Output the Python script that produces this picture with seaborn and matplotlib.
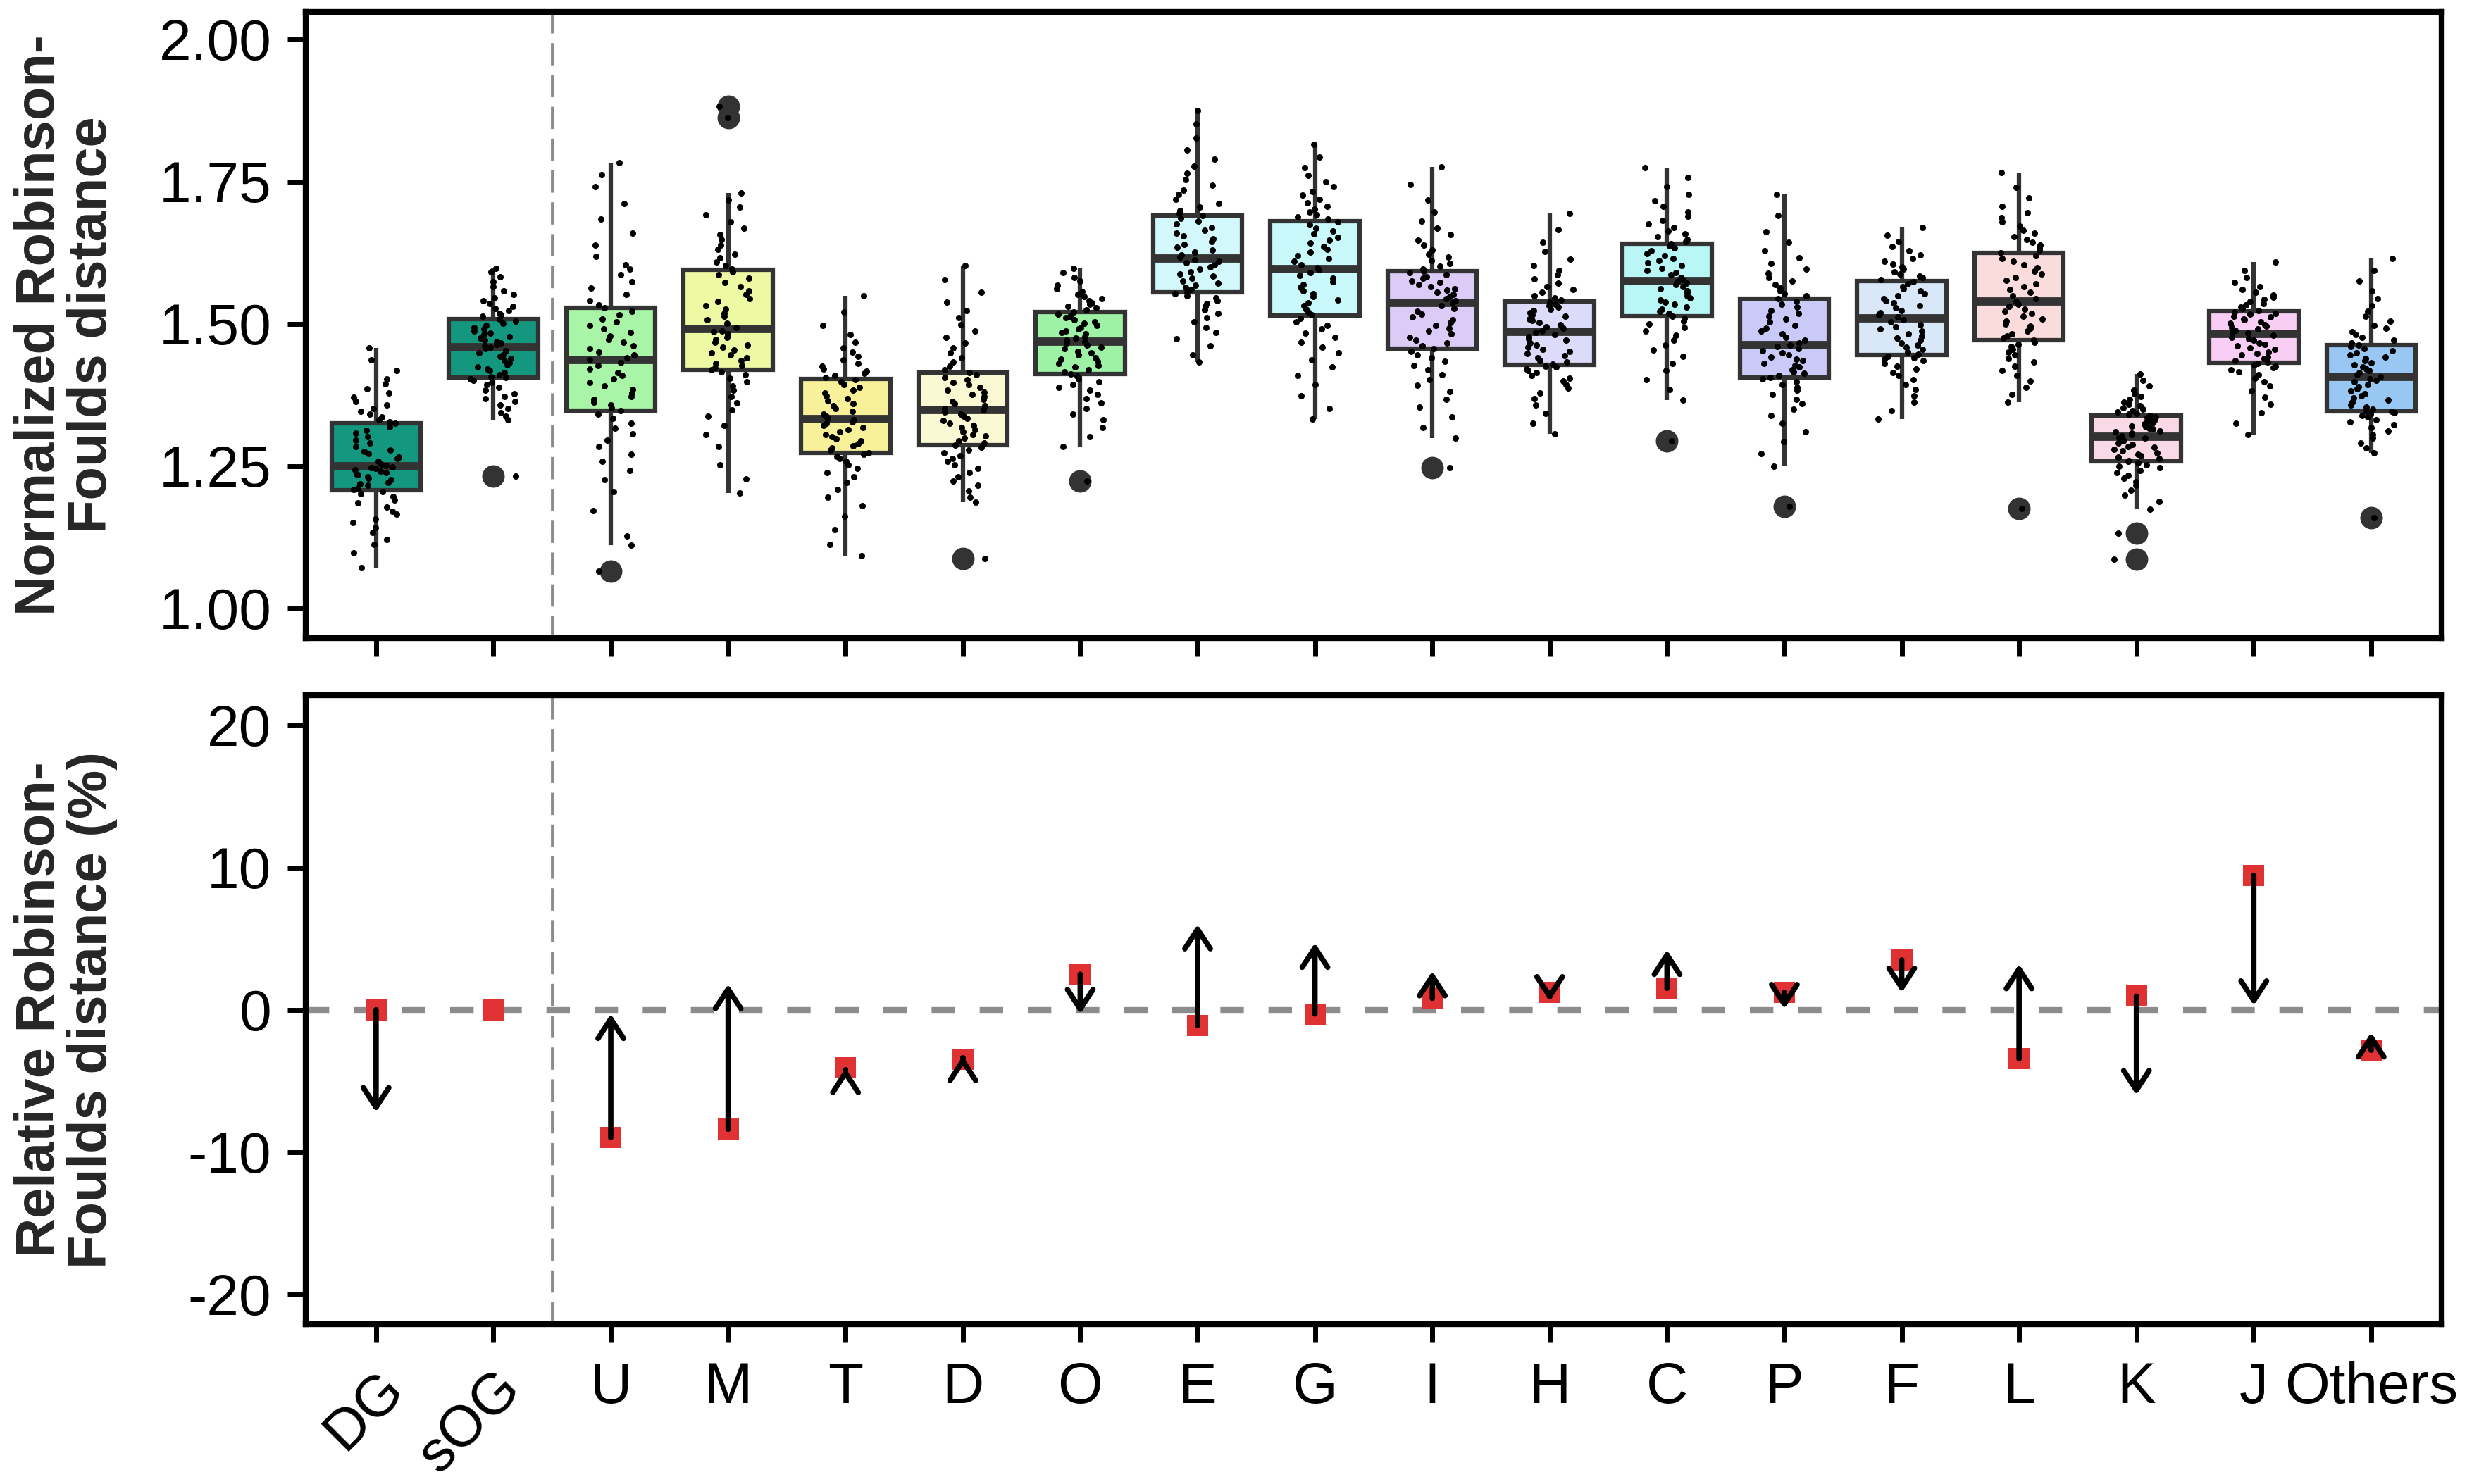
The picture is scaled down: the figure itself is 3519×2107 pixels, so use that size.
import numpy as np
import pandas as pd
import matplotlib
matplotlib.use("Agg")
import matplotlib.pyplot as plt
import seaborn as sns

# ---------------- data ----------------
categories = ["DG", "sOG", "U", "M", "T", "D", "O", "E", "G", "I", "H", "C",
              "P", "F", "L", "K", "J", "Others"]

rf_DG = [1.072, 1.098, 1.113, 1.121, 1.134, 1.142, 1.151, 1.157, 1.166, 1.171, 1.178, 1.186, 1.191, 1.197, 1.202, 1.206,
         1.209, 1.211, 1.216, 1.219, 1.221, 1.226, 1.229, 1.232, 1.235, 1.236, 1.239, 1.241, 1.244, 1.246, 1.247, 1.249,
         1.251, 1.254, 1.258, 1.263, 1.266, 1.272, 1.276, 1.279, 1.284, 1.291, 1.296, 1.302, 1.308, 1.313, 1.319, 1.325,
         1.328, 1.331, 1.337, 1.342, 1.346, 1.352, 1.358, 1.364, 1.371, 1.379, 1.386, 1.395, 1.404, 1.418, 1.437, 1.458]
rf_sOG = [1.331, 1.338, 1.344, 1.352, 1.358, 1.364, 1.369, 1.373, 1.378, 1.384, 1.389, 1.393, 1.397, 1.401, 1.403, 1.406,
          1.407, 1.411, 1.414, 1.418, 1.421, 1.425, 1.428, 1.432, 1.436, 1.439, 1.443, 1.446, 1.449, 1.453, 1.456, 1.459,
          1.462, 1.464, 1.467, 1.469, 1.472, 1.475, 1.478, 1.481, 1.484, 1.487, 1.491, 1.494, 1.497, 1.501, 1.505, 1.509,
          1.513, 1.516, 1.519, 1.523, 1.527, 1.531, 1.536, 1.541, 1.546, 1.552, 1.558, 1.566, 1.574, 1.583, 1.591, 1.598,
          1.233]
rf_U = [1.111, 1.128, 1.172, 1.205, 1.226, 1.243, 1.258, 1.271, 1.284, 1.296, 1.307, 1.317, 1.326, 1.334, 1.341, 1.348,
        1.353, 1.357, 1.362, 1.368, 1.373, 1.379, 1.385, 1.391, 1.397, 1.403, 1.409, 1.415, 1.421, 1.427, 1.432, 1.437,
        1.440, 1.445, 1.451, 1.457, 1.462, 1.468, 1.473, 1.479, 1.485, 1.491, 1.497, 1.503, 1.509, 1.516, 1.522, 1.528,
        1.533, 1.541, 1.552, 1.563, 1.574, 1.586, 1.597, 1.604, 1.619, 1.638, 1.659, 1.684, 1.712, 1.741, 1.762, 1.783,
        1.066]
rf_M = [1.203, 1.228, 1.252, 1.284, 1.306, 1.322, 1.338, 1.349, 1.361, 1.372, 1.383, 1.391, 1.398, 1.405, 1.411, 1.416,
        1.419, 1.423, 1.427, 1.431, 1.436, 1.441, 1.445, 1.449, 1.454, 1.459, 1.463, 1.468, 1.473, 1.477, 1.482, 1.486,
        1.488, 1.494, 1.501, 1.507, 1.513, 1.519, 1.526, 1.532, 1.539, 1.545, 1.552, 1.558, 1.566, 1.573, 1.580, 1.587,
        1.592, 1.597, 1.603, 1.609, 1.616, 1.622, 1.631, 1.639, 1.648, 1.657, 1.668, 1.679, 1.692, 1.705, 1.718, 1.730,
        1.862, 1.882]
rf_T = [1.093, 1.112, 1.138, 1.162, 1.181, 1.196, 1.209, 1.221, 1.231, 1.239, 1.246, 1.252, 1.258, 1.263, 1.267, 1.271,
        1.274, 1.278, 1.282, 1.286, 1.290, 1.294, 1.298, 1.302, 1.306, 1.310, 1.314, 1.318, 1.322, 1.325, 1.328, 1.331,
        1.334, 1.338, 1.342, 1.347, 1.351, 1.356, 1.360, 1.365, 1.369, 1.374, 1.379, 1.384, 1.389, 1.394, 1.398, 1.402,
        1.406, 1.409, 1.413, 1.417, 1.421, 1.426, 1.431, 1.437, 1.443, 1.450, 1.458, 1.468, 1.481, 1.498, 1.521, 1.550]
rf_D = [1.187, 1.196, 1.207, 1.216, 1.224, 1.232, 1.239, 1.246, 1.252, 1.258, 1.263, 1.268, 1.273, 1.278, 1.283, 1.287,
        1.291, 1.295, 1.299, 1.303, 1.306, 1.310, 1.314, 1.318, 1.322, 1.326, 1.330, 1.334, 1.338, 1.342, 1.345, 1.349,
        1.352, 1.356, 1.360, 1.364, 1.368, 1.372, 1.376, 1.380, 1.384, 1.389, 1.393, 1.397, 1.402, 1.406, 1.411, 1.415,
        1.420, 1.426, 1.433, 1.441, 1.449, 1.458, 1.467, 1.477, 1.488, 1.499, 1.511, 1.524, 1.538, 1.556, 1.578, 1.603,
        1.088]
rf_O = [1.284, 1.302, 1.318, 1.331, 1.342, 1.352, 1.361, 1.369, 1.376, 1.383, 1.389, 1.394, 1.399, 1.404, 1.408, 1.412,
        1.416, 1.420, 1.424, 1.427, 1.431, 1.434, 1.438, 1.441, 1.445, 1.449, 1.452, 1.456, 1.459, 1.463, 1.466, 1.469,
        1.472, 1.475, 1.478, 1.482, 1.485, 1.488, 1.491, 1.494, 1.498, 1.501, 1.504, 1.507, 1.511, 1.514, 1.517, 1.521,
        1.525, 1.528, 1.531, 1.534, 1.537, 1.541, 1.544, 1.548, 1.552, 1.557, 1.562, 1.568, 1.575, 1.582, 1.590, 1.598,
        1.224]
rf_E = [1.433, 1.446, 1.461, 1.474, 1.485, 1.494, 1.503, 1.511, 1.518, 1.525, 1.531, 1.536, 1.541, 1.546, 1.550, 1.553,
        1.556, 1.560, 1.564, 1.568, 1.572, 1.576, 1.580, 1.584, 1.588, 1.592, 1.596, 1.600, 1.604, 1.607, 1.610, 1.613,
        1.617, 1.621, 1.626, 1.630, 1.635, 1.640, 1.645, 1.650, 1.655, 1.660, 1.665, 1.670, 1.675, 1.680, 1.685, 1.690,
        1.694, 1.699, 1.705, 1.712, 1.719, 1.727, 1.735, 1.744, 1.754, 1.765, 1.777, 1.790, 1.806, 1.826, 1.851, 1.875]
rf_G = [1.333, 1.352, 1.374, 1.393, 1.410, 1.424, 1.437, 1.449, 1.459, 1.468, 1.476, 1.484, 1.491, 1.498, 1.504, 1.510,
        1.516, 1.521, 1.526, 1.532, 1.537, 1.542, 1.548, 1.553, 1.558, 1.564, 1.569, 1.574, 1.580, 1.585, 1.590, 1.595,
        1.599, 1.604, 1.610, 1.615, 1.620, 1.626, 1.631, 1.636, 1.642, 1.647, 1.652, 1.658, 1.663, 1.668, 1.674, 1.679,
        1.684, 1.688, 1.692, 1.697, 1.702, 1.707, 1.713, 1.719, 1.726, 1.733, 1.741, 1.750, 1.761, 1.774, 1.793, 1.815]
rf_I = [1.300, 1.318, 1.337, 1.354, 1.368, 1.381, 1.392, 1.402, 1.411, 1.419, 1.427, 1.434, 1.440, 1.446, 1.452, 1.457,
        1.462, 1.467, 1.472, 1.477, 1.482, 1.487, 1.492, 1.497, 1.502, 1.507, 1.512, 1.517, 1.522, 1.527, 1.532, 1.537,
        1.541, 1.545, 1.548, 1.552, 1.555, 1.559, 1.562, 1.566, 1.569, 1.573, 1.576, 1.580, 1.583, 1.587, 1.590, 1.593,
        1.597, 1.601, 1.606, 1.611, 1.617, 1.623, 1.630, 1.638, 1.647, 1.657, 1.668, 1.681, 1.697, 1.718, 1.745, 1.776,
        1.248]
rf_H = [1.307, 1.325, 1.343, 1.357, 1.369, 1.379, 1.387, 1.394, 1.400, 1.405, 1.410, 1.414, 1.418, 1.421, 1.424, 1.426,
        1.429, 1.433, 1.436, 1.440, 1.444, 1.448, 1.452, 1.455, 1.459, 1.463, 1.467, 1.471, 1.474, 1.478, 1.481, 1.485,
        1.488, 1.492, 1.495, 1.499, 1.502, 1.506, 1.509, 1.513, 1.516, 1.520, 1.523, 1.526, 1.529, 1.532, 1.535, 1.538,
        1.542, 1.546, 1.550, 1.555, 1.560, 1.566, 1.572, 1.579, 1.586, 1.594, 1.603, 1.614, 1.627, 1.643, 1.666, 1.694]
rf_C = [1.366, 1.385, 1.402, 1.418, 1.431, 1.443, 1.454, 1.463, 1.472, 1.480, 1.487, 1.494, 1.500, 1.505, 1.510, 1.514,
        1.518, 1.522, 1.526, 1.530, 1.534, 1.538, 1.542, 1.546, 1.550, 1.554, 1.558, 1.562, 1.566, 1.569, 1.572, 1.575,
        1.578, 1.582, 1.586, 1.590, 1.594, 1.598, 1.603, 1.607, 1.611, 1.615, 1.620, 1.624, 1.628, 1.633, 1.637, 1.641,
        1.645, 1.649, 1.653, 1.658, 1.663, 1.669, 1.675, 1.682, 1.689, 1.697, 1.706, 1.716, 1.728, 1.741, 1.757, 1.774,
        1.295]
rf_P = [1.250, 1.272, 1.293, 1.311, 1.326, 1.339, 1.350, 1.360, 1.368, 1.376, 1.383, 1.389, 1.394, 1.399, 1.403, 1.406,
        1.409, 1.413, 1.416, 1.420, 1.424, 1.427, 1.431, 1.435, 1.438, 1.442, 1.446, 1.449, 1.453, 1.457, 1.460, 1.463,
        1.467, 1.472, 1.477, 1.482, 1.487, 1.492, 1.498, 1.503, 1.508, 1.514, 1.519, 1.524, 1.530, 1.535, 1.540, 1.545,
        1.549, 1.553, 1.558, 1.563, 1.569, 1.575, 1.582, 1.589, 1.597, 1.606, 1.616, 1.628, 1.643, 1.662, 1.691, 1.727,
        1.180]
rf_F = [1.333, 1.348, 1.362, 1.374, 1.385, 1.394, 1.402, 1.409, 1.415, 1.421, 1.426, 1.431, 1.435, 1.438, 1.441, 1.443,
        1.447, 1.451, 1.455, 1.459, 1.463, 1.467, 1.471, 1.475, 1.479, 1.483, 1.487, 1.491, 1.495, 1.499, 1.503, 1.507,
        1.512, 1.516, 1.520, 1.524, 1.528, 1.532, 1.537, 1.541, 1.545, 1.549, 1.553, 1.558, 1.562, 1.566, 1.570, 1.574,
        1.578, 1.581, 1.584, 1.588, 1.592, 1.596, 1.600, 1.605, 1.610, 1.615, 1.621, 1.628, 1.636, 1.645, 1.656, 1.669]
rf_L = [1.362, 1.376, 1.389, 1.400, 1.410, 1.418, 1.426, 1.433, 1.439, 1.445, 1.450, 1.455, 1.460, 1.464, 1.468, 1.471,
        1.475, 1.479, 1.483, 1.488, 1.492, 1.496, 1.500, 1.505, 1.509, 1.513, 1.518, 1.522, 1.526, 1.531, 1.535, 1.539,
        1.544, 1.549, 1.555, 1.560, 1.566, 1.571, 1.577, 1.582, 1.588, 1.593, 1.599, 1.604, 1.610, 1.615, 1.620, 1.625,
        1.630, 1.634, 1.638, 1.643, 1.648, 1.653, 1.659, 1.665, 1.672, 1.679, 1.687, 1.696, 1.707, 1.721, 1.740, 1.766,
        1.176]
rf_K = [1.175, 1.188, 1.199, 1.208, 1.216, 1.223, 1.229, 1.234, 1.239, 1.243, 1.247, 1.250, 1.253, 1.256, 1.258, 1.260,
        1.263, 1.266, 1.269, 1.271, 1.274, 1.277, 1.280, 1.283, 1.285, 1.288, 1.291, 1.294, 1.296, 1.299, 1.301, 1.303,
        1.306, 1.308, 1.310, 1.312, 1.315, 1.317, 1.319, 1.321, 1.324, 1.326, 1.328, 1.330, 1.333, 1.335, 1.337, 1.339,
        1.341, 1.343, 1.345, 1.348, 1.350, 1.353, 1.356, 1.359, 1.363, 1.367, 1.372, 1.377, 1.384, 1.391, 1.401, 1.412,
        1.132, 1.086]
rf_J = [1.306, 1.326, 1.344, 1.359, 1.371, 1.382, 1.391, 1.399, 1.405, 1.411, 1.416, 1.420, 1.423, 1.426, 1.428, 1.430,
        1.433, 1.436, 1.439, 1.442, 1.445, 1.448, 1.451, 1.455, 1.458, 1.461, 1.464, 1.467, 1.471, 1.474, 1.477, 1.480,
        1.484, 1.486, 1.489, 1.491, 1.494, 1.496, 1.499, 1.501, 1.504, 1.507, 1.509, 1.512, 1.514, 1.517, 1.519, 1.521,
        1.524, 1.527, 1.530, 1.533, 1.536, 1.539, 1.543, 1.547, 1.551, 1.555, 1.560, 1.566, 1.573, 1.582, 1.594, 1.609]
rf_Others = [1.273, 1.282, 1.291, 1.299, 1.306, 1.312, 1.318, 1.323, 1.328, 1.332, 1.336, 1.339, 1.342, 1.344, 1.346, 1.347,
             1.350, 1.354, 1.358, 1.362, 1.366, 1.370, 1.374, 1.378, 1.382, 1.386, 1.390, 1.394, 1.398, 1.401, 1.404, 1.407,
             1.411, 1.414, 1.418, 1.421, 1.425, 1.428, 1.432, 1.435, 1.439, 1.442, 1.446, 1.449, 1.453, 1.456, 1.460, 1.463,
             1.467, 1.471, 1.476, 1.481, 1.486, 1.492, 1.498, 1.505, 1.513, 1.522, 1.532, 1.544, 1.558, 1.575, 1.594, 1.615,
             1.160]

rf_values = [rf_DG, rf_sOG, rf_U, rf_M, rf_T, rf_D, rf_O, rf_E, rf_G, rf_I, rf_H,
             rf_C, rf_P, rf_F, rf_L, rf_K, rf_J, rf_Others]

box_colors = ["#13987f", "#13987f", "#a8f5a8", "#eef9a3", "#f8f19a", "#fbf9d3",
              "#9df2a5", "#d3f8fb", "#c9f9fa", "#dccbf6", "#dcdbf9", "#b9f7f7",
              "#cacaf9", "#d8e8f9", "#fadcdc", "#f9d9e6", "#f8cef5", "#98c7f4"]

# relative RF distance (%): red squares and arrow start/end values
rel_square = [0.0, 0.0, -9.0, -8.4, -4.1, -3.5, 2.5, -1.1, -0.3, 0.8, 1.2, 1.5,
              1.2, 3.5, -3.45, 0.95, 9.45, -2.85]
arrow_start = [0.0, 0.0, -9.0, -8.4, -4.25, -3.4, 2.5, -1.1, -0.3, 0.8, 1.2, 1.5,
               1.2, 3.5, -3.45, 0.95, 9.45, -2.85]
arrow_end = [-7.2, 0.0, -0.3, 1.8, -4.1, -3.25, -0.3, 6.0, 4.7, 2.7, 0.6, 4.2,
             0.05, 1.2, 3.2, -6.0, 0.3, -1.6]

top_yticks = [1.00, 1.25, 1.50, 1.75, 2.00]
bottom_yticks = [-20, -10, 0, 10, 20]

# ---------------- style ----------------
sns.set_style("ticks")
plt.rcParams["font.family"] = ["Liberation Sans", "DejaVu Sans"]
plt.rcParams["axes.unicode_minus"] = False

df = pd.DataFrame({
    "group": np.repeat(categories, [len(v) for v in rf_values]),
    "rf": np.concatenate(rf_values),
})
rel_df = pd.DataFrame({"group": categories, "rel": rel_square})

fig = plt.figure(figsize=(35.19, 21.07), dpi=100)
ax1 = fig.add_axes([0.1233, 0.5700, 0.8616, 0.4219])
ax2 = fig.add_axes([0.1233, 0.1077, 0.8616, 0.4238])

edge = "#333333"
grey = "#8c8c8c"

# ---------------- top panel ----------------
ax1.axvline(1.5, color=grey, lw=3.5, dashes=(6.5, 2.8), zorder=0.5)
sns.boxplot(data=df, x="group", y="rf", hue="group", order=categories,
            hue_order=categories, palette=dict(zip(categories, box_colors)),
            saturation=1, legend=False, dodge=False, width=0.76, linewidth=4.5,
            linecolor=edge, fliersize=22, whis=1.5, showcaps=False,
            flierprops=dict(marker="o", markerfacecolor=edge, markeredgecolor=edge),
            medianprops=dict(linewidth=8.5, color=edge),
            whiskerprops=dict(linewidth=4.5, color=edge),
            ax=ax1)
np.random.seed(11)
sns.stripplot(data=df, x="group", y="rf", order=categories, color="black",
              size=6.5, jitter=0.2, linewidth=0, ax=ax1, zorder=4)

# ---------------- bottom panel ----------------
ax2.axvline(1.5, color=grey, lw=3.5, dashes=(6.5, 2.8), zorder=0.5)
ax2.axhline(0, color=grey, lw=6, dashes=(4.0, 4.2), zorder=1)
sns.stripplot(data=rel_df, x="group", y="rel", order=categories, marker="s",
              size=21, color="#e03232", jitter=False, linewidth=0, ax=ax2, zorder=3)
for i, (s, e) in enumerate(zip(arrow_start, arrow_end)):
    if s == e:
        continue
    ax2.annotate("", xy=(i, e), xytext=(i, s), xycoords="data",
                 arrowprops=dict(arrowstyle="->,head_length=0.95,head_width=0.62",
                                 lw=5.5, color="black", shrinkA=0, shrinkB=0,
                                 mutation_scale=21),
                 zorder=5)

# ---------------- axes formatting ----------------
for ax in (ax1, ax2):
    ax.set_xlim(-0.6, 17.6)
    for sp in ax.spines.values():
        sp.set_visible(True)
        sp.set_linewidth(6)
        sp.set_color("black")
    ax.tick_params(axis="both", direction="out", length=19, width=5,
                   color="black", labelsize=59, pad=16, labelcolor="black")
    ax.set_xlabel("")

ax1.set_ylim(0.948, 2.048)
ax1.set_yticks(top_yticks)
ax1.set_yticklabels([f"{v:.2f}" for v in top_yticks])
ax1.set_xticks(range(len(categories)))
ax1.tick_params(axis="x", labelbottom=False)
ax1.set_ylabel("Normalized Robinson-\nFoulds distance", fontsize=56,
               fontweight="bold", linespacing=1.02)
ax1.yaxis.set_label_coords(-0.088, 0.5)

ax2.set_ylim(-22.1, 22.1)
ax2.set_yticks(bottom_yticks)
ax2.set_yticklabels([str(v) for v in bottom_yticks])
ax2.set_xticks(range(len(categories)))
ax2.set_xticklabels(categories)
ax2.tick_params(axis="x", pad=19)
for lbl in ax2.get_xticklabels()[:2]:
    lbl.set_rotation(45)
    lbl.set_horizontalalignment("right")
    lbl.set_verticalalignment("top")
    lbl.set_rotation_mode("anchor")
ax2.set_ylabel("Relative Robinson-\nFoulds distance (%)", fontsize=56,
               fontweight="bold", linespacing=1.02)
ax2.yaxis.set_label_coords(-0.088, 0.5)

fig.savefig("out.png", dpi=100, facecolor="white")
